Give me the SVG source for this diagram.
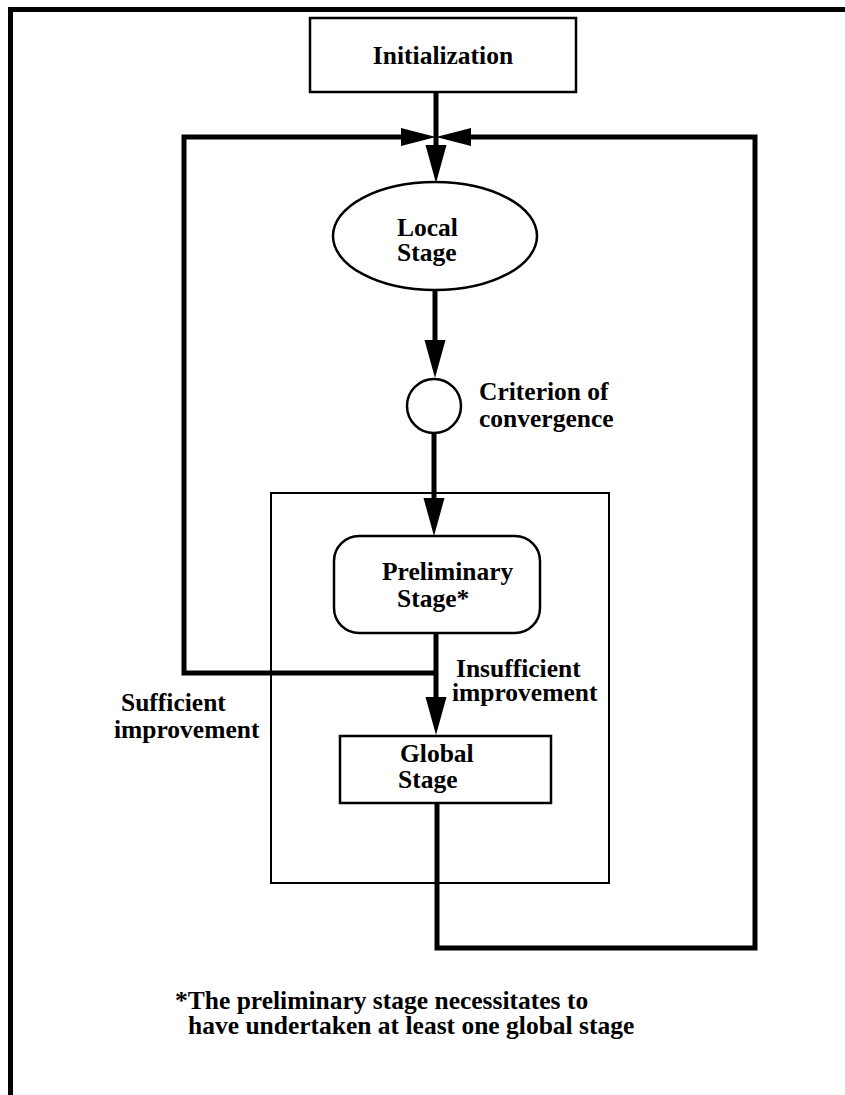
<svg xmlns="http://www.w3.org/2000/svg" width="845" height="1095" viewBox="0 0 845 1095">
<style>
text { font-family: "Liberation Serif", "Times New Roman", serif; font-weight: bold; font-size: 25.5px; fill: #000; }
.node { fill: #fff; stroke: #000; stroke-width: 2.5; }
.thin { fill: none; stroke: #000; stroke-width: 2; }
.wire { fill: none; stroke: #000; stroke-width: 5; stroke-linejoin: miter; stroke-linecap: butt; }
</style>
<defs>
<marker id="arrV" markerUnits="userSpaceOnUse" markerWidth="40" markerHeight="24" refX="0" refY="12" orient="auto" overflow="visible">
<path d="M0,1.5 L38,12 L0,22.5 z" fill="#000"/>
</marker>
<marker id="arrH" markerUnits="userSpaceOnUse" markerWidth="40" markerHeight="24" refX="0" refY="12" orient="auto" overflow="visible">
<path d="M0,3 L35,12 L0,21 z" fill="#000"/>
</marker>
</defs>
<rect width="845" height="1095" fill="#fff"/>
<g id="frame">
<path class="wire" d="M10.5,1095 V9.5 H845"/>
</g>
<g id="container">
<rect class="thin" x="271" y="493" width="338" height="390"/>
</g>
<g id="connectors">
<path class="wire" d="M436,92 V145" marker-end="url(#arrV)"/>
<path class="wire" d="M436,673 H184 V137 H401" marker-end="url(#arrH)"/>
<path class="wire" d="M437,801 V948 H755 V137 H471" marker-end="url(#arrH)"/>
<path class="wire" d="M435,290 V340" marker-end="url(#arrV)"/>
<path class="wire" d="M434,433 V498" marker-end="url(#arrV)"/>
<path class="wire" d="M436,633 V697" marker-end="url(#arrV)"/>
</g>
<g id="initialization">
<rect class="node" x="310" y="18" width="266" height="74"/>
<text x="443" y="64" text-anchor="middle">Initialization</text>
</g>
<g id="local-stage">
<ellipse class="node" cx="435" cy="236" rx="102" ry="54"/>
<text x="397" y="236">Local</text>
<text x="397" y="261">Stage</text>
</g>
<g id="criterion">
<circle class="node" cx="434" cy="406" r="27"/>
<text x="479" y="400">Criterion of</text>
<text x="479" y="427">convergence</text>
</g>
<g id="preliminary-stage">
<rect class="node" x="334" y="536" width="206" height="97" rx="25" ry="25"/>
<text x="382" y="580">Preliminary</text>
<text x="397" y="607">Stage*</text>
</g>
<g id="global-stage">
<rect class="node" x="340" y="736" width="211" height="67"/>
<text x="400" y="762">Global</text>
<text x="398" y="788">Stage</text>
</g>
<g id="labels">
<text x="456" y="677">Insufficient</text>
<text x="452" y="701">improvement</text>
<text x="121" y="711">Sufficient</text>
<text x="114" y="738">improvement</text>
<text x="175" y="1009">*The preliminary stage necessitates to</text>
<text x="188" y="1034">have undertaken at least one global stage</text>
</g>
</svg>
